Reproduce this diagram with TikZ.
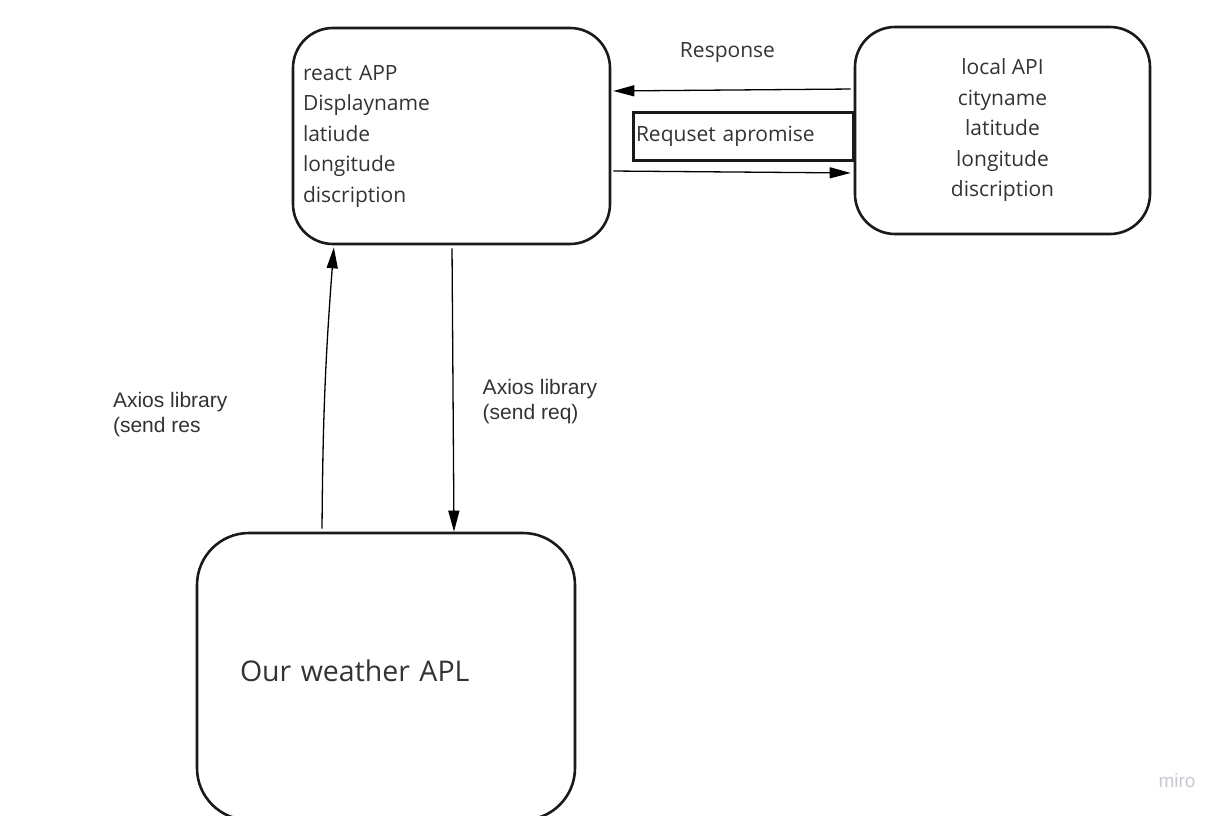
\documentclass[tikz,border=0pt]{standalone}
\usepackage{fontspec}
\setmainfont{Open Sans}
\newfontfamily\arialfont{Liberation Sans}
\usetikzlibrary{shapes,arrows.meta}
\definecolor{textgray}{HTML}{333333}
\definecolor{linegray}{HTML}{1A1A1A}
\definecolor{mirogray}{HTML}{C8C8D2}

\begin{document}
\begin{tikzpicture}[x=1pt,y=-1pt,
  every node/.style={text=textgray},
  box/.style={
    draw=linegray,
    line width=2.6pt,
    rounded corners=40pt,
    font=\fontsize{21}{30.5}\selectfont},
  conn/.style={
    draw=black,
    line width=1.3pt,
    -{Triangle[length=21pt,width=11pt]}},
  axios/.style={
    font=\arialfont\fontsize{21}{25}\selectfont,
    align=left,
    inner sep=0pt}
  ]
    \useasboundingbox (0,0) rectangle (1224,816);
    % boxes
    \node[box, minimum height=216pt, text width=297pt, inner xsep=10pt, align=left] (e0) at (451.5,136)
        {react APP\\Displayname\\latiude\\longitude\\discription};
    \node[box, minimum width=295pt, minimum height=207pt, align=center] (e1) at (1002.5,130.5)
        {local API\\cityname\\latitude\\longitude\\discription};
    \node[box, rounded corners=52pt, minimum height=287pt, text width=292pt, inner xsep=43pt, align=left,
        text depth=11pt, font=\fontsize{28.5}{34}\selectfont] (e2) at (386,676.5) {Our weather APL};
    \node[draw=linegray, line width=3pt, minimum height=48pt, text width=214pt, inner xsep=3pt, align=left,
        font=\fontsize{21}{24}\selectfont] (e3) at (743,136) {Requset apromise};
    % arrows
    \draw[conn, shorten <=3pt, shorten >=2pt] ([yshift=41.5pt]e1.west) --
        node[above=27pt, xshift=-5pt, inner sep=0pt, font=\fontsize{21}{24}\selectfont] (e4) {Response}
        ([yshift=45pt]e0.east);
    \draw[conn, shorten <=2pt, shorten >=3pt] ([yshift=-35pt]e0.east) -- ([yshift=-42.5pt]e1.west);
    \draw[conn, shorten <=3pt] ([xshift=0.5pt]e0.south) --
        node[axios, pos=0.545, right=29pt] (e5) {Axios library\\(send req)}
        ([xshift=68pt]e2.north);
    \draw[conn, shorten <=3pt, shorten >=2pt] ([xshift=-64pt]e2.north) to[bend left=2]
        node[axios, pos=0.40, left=96pt] (e6) {Axios library\\(send res}
        ([xshift=-117.5pt]e0.south);
    %\node (e7) ...
    \node[font=\arialfont\fontsize{19}{19}\selectfont, text=mirogray] (e7) at (1177,781) {miro};
\end{tikzpicture}
\end{document}
